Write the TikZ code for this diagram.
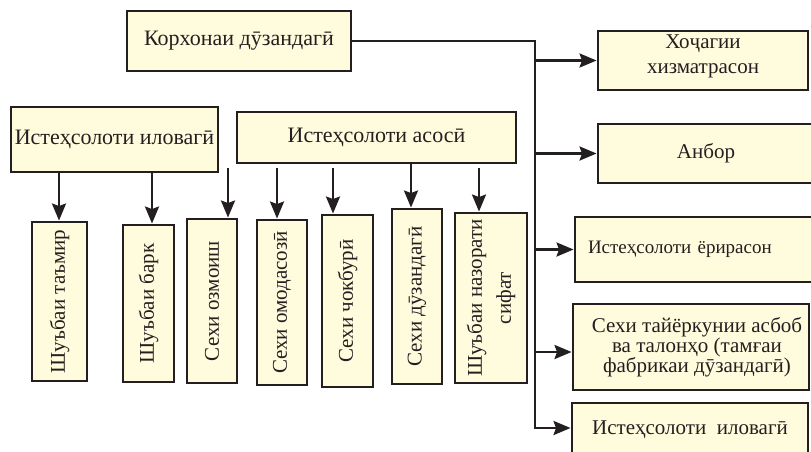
\documentclass[tikz,border=0pt]{standalone}
\usepackage{fontspec}
\setmainfont{Liberation Serif}
\usetikzlibrary{arrows.meta}
\definecolor{boxfill}{RGB}{255,251,221}
\definecolor{ink}{RGB}{35,31,32}
\tikzset{
  box/.style={draw=ink, line width=2.9pt, fill=boxfill, inner sep=0pt, align=center,
    font=\fontsize{21}{25}\selectfont, text=ink},
  hbig/.style={font=\fontsize{22}{26}\selectfont},
  vbox/.style={box, rotate=90},
  conn/.style={draw=ink, line width=2.5pt},
  arr/.style={conn, -{Stealth[length=17pt,width=14pt,inset=2.5pt]}},
}
\begin{document}
\begin{tikzpicture}[x=1pt,y=-1pt]
\useasboundingbox (0,0) rectangle (811,451);
\clip (0,0) rectangle (811,451);
% top
\node[box, hbig, minimum width=224pt, minimum height=60pt] (top) at (239,41) {Корхонаи дӯзандагӣ};
% middle headers
\node[box, hbig, minimum width=207pt, minimum height=65pt] (ilov) at (114.5,139.5) {Истеҳсолоти иловагӣ};
\node[box, hbig, minimum width=279pt, minimum height=51pt] (asos) at (376.5,137.5) {Истеҳсолоти асосӣ};
% vertical boxes
\node[vbox, minimum width=159pt, minimum height=55pt] (v1) at (59.5,301.5) {Шуъбаи таъмир};
\node[vbox, minimum width=157pt, minimum height=51pt] (v2) at (148.5,303.5) {Шуъбаи барк};
\node[vbox, minimum width=164pt, minimum height=50pt] (v3) at (212,301) {Сехи озмоиш};
\node[vbox, minimum width=165pt, minimum height=50pt] (v4) at (282,302.5) {Сехи омодасозӣ};
\node[vbox, minimum width=172pt, minimum height=51pt] (v5) at (347.5,301) {Сехи чокбурӣ};
\node[vbox, minimum width=175pt, minimum height=50pt] (v6) at (417,296.5) {Сехи дӯзандагӣ};
\node[vbox, minimum width=170pt, minimum height=72pt, font=\fontsize{21}{29}\selectfont] (v7) at (491,298) {Шуъбаи назорати\\сифат};
% right boxes
\node[box, minimum width=210pt, minimum height=59pt] (r1) at (703,60.5)
  {\raisebox{5pt}[\height][\depth]{\begin{tabular}{@{}c@{}}Хоҷагии\\хизматрасон\end{tabular}}};
\node[box, minimum width=216pt, minimum height=59pt] (r2) at (706,153.5) {Анбор};
\node[box, minimum height=65pt, text width=215pt, inner xsep=13pt, align=left,
  font=\fontsize{19}{23}\selectfont] (r3) at (695.5,249.5) {Истеҳсолоти ёрирасон};
\node[box, minimum width=236pt, minimum height=86pt, font=\fontsize{21}{20}\selectfont] (r4) at (691,347)
  {\hspace*{12pt}Сехи тайёркунии асбоб\\\hspace*{12pt}ва талонҳо (тамғаи\\\hspace*{12pt}фабрикаи дӯзандагӣ)};
\node[box, minimum width=236pt, minimum height=54pt] (r5) at (690,430) {Истеҳсолоти\ \ иловагӣ};
% helper coordinates
\coordinate (g) at ([yshift=-4pt]asos.south);
\coordinate (a1) at (59,0);
\coordinate (a2) at (152,0);
\coordinate (a3) at (228,0);
\coordinate (a4) at (277,0);
\coordinate (a5) at (333,0);
\coordinate (a6) at (411,0);
\coordinate (a7) at (479,0);
\coordinate (bt) at (535,41);
\coordinate (bb) at (535,428);
% down arrows
\draw[arr] (a1 |- ilov.south) -- (a1 |- v1.east);
\draw[arr] (a2 |- ilov.south) -- (a2 |- v2.east);
\draw[arr] (a3 |- g) -- (a3 |- v3.east);
\draw[arr] (a4 |- g) -- (a4 |- v4.east);
\draw[arr] (a5 |- g) -- (a5 |- v5.east);
\draw[arr] (a6 |- asos.south) -- (a6 |- v6.east);
\draw[arr] (a7 |- g) -- (a7 |- v7.east);
% bus
\draw[arr] (top.east) -| (bb) -- (bb -| r5.west);
\draw[arr] (bt |- r1.west) -- (r1.west);
\draw[arr] (bt |- r2.west) -- (r2.west);
\draw[arr] (bt |- r3.west) -- (r3.west);
\coordinate (r4a) at ([yshift=-5pt]r4.west);
\draw[arr] (bt |- r4a) -- (r4a);
\end{tikzpicture}
\end{document}
